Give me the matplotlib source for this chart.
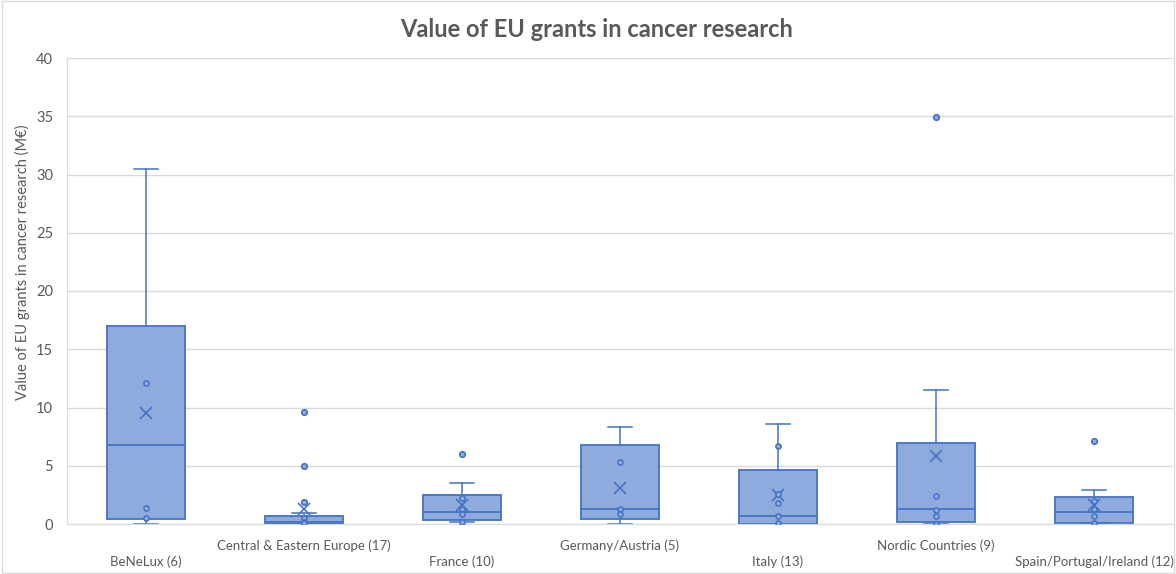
import matplotlib
matplotlib.use('Agg')
import matplotlib.pyplot as plt
from matplotlib.patches import Rectangle

plt.rcParams['font.family'] = ['Lato', 'DejaVu Sans']

# Regional groups and summary statistics (M€)
groups = ['BeNeLux (6)', 'Central & Eastern Europe (17)', 'France (10)',
          'Germany/Austria (5)', 'Italy (13)', 'Nordic Countries (9)',
          'Spain/Portugal/Ireland (12)']
q1 = [0.45, 0.0, 0.35, 0.4, 0.0, 0.2, 0.12]
medians = [6.75, 0.15, 1.05, 1.3, 0.7, 1.25, 1.0]
q3 = [17.0, 0.65, 2.5, 6.75, 4.65, 6.95, 2.3]
whisker_lo = [0.0, 0.0, 0.2, 0.0, 0.0, 0.0, 0.05]
whisker_hi = [30.5, 0.95, 3.5, 8.3, 8.55, 11.5, 2.95]
means = [9.5, 1.25, 1.6, 3.1, 2.5, 5.8, 1.6]
inner_points = [[12.1, 1.4, 0.55], [0.5, 0.2, 0.05], [2.2, 1.3, 0.9, 0.2],
                [5.3, 1.3, 0.85], [6.7, 2.6, 1.8, 0.65, 0.05],
                [2.4, 1.2, 0.65, 0.0], [2.0, 1.3, 0.65, 0.05]]
outliers = [[], [9.6, 5.0, 1.9], [6.0], [], [], [34.9], [7.1]]

edge = '#4472c4'
fill = '#8faadc'
text_col = '#595959'
grid_col = '#d9d9d9'

fig = plt.figure(figsize=(11.76, 5.74), dpi=100)
ax = fig.add_axes([67 / 1176, 1 - 524 / 574, 1106 / 1176, 466 / 574])

stats = []
for i, g in enumerate(groups):
    stats.append({'label': g, 'q1': q1[i], 'med': medians[i], 'q3': q3[i],
                  'whislo': whisker_lo[i], 'whishi': whisker_hi[i],
                  'mean': means[i], 'fliers': outliers[i]})

positions = list(range(len(groups)))
ax.bxp(stats, positions=positions, widths=0.49, patch_artist=True,
       showmeans=True, showfliers=True,
       boxprops=dict(facecolor=fill, edgecolor=edge, linewidth=1.3),
       medianprops=dict(color=edge, linewidth=1.3),
       whiskerprops=dict(color=edge, linewidth=1.1),
       capprops=dict(color=edge, linewidth=1.1),
       capwidths=0.15,
       meanprops=dict(marker='x', markeredgecolor=edge, markersize=8,
                      markeredgewidth=1.2),
       flierprops=dict(marker='o', markerfacecolor=fill, markeredgecolor=edge,
                       markersize=4, markeredgewidth=1.2))

for i, pts in enumerate(inner_points):
    ax.scatter([positions[i]] * len(pts), pts, s=14, facecolor=fill,
               edgecolor=edge, linewidth=1.1, zorder=4)

ax.set_xlim(-0.5, len(groups) - 0.5)
ax.set_ylim(0, 40)
ax.set_yticks(range(0, 41, 5))
ax.yaxis.grid(True, color=grid_col, linewidth=1)
ax.set_axisbelow(True)
ax.tick_params(axis='y', length=0, pad=10, labelsize=10.5, labelcolor=text_col)
ax.tick_params(axis='x', length=0, labelsize=9.5, labelcolor=text_col)
ax.set_xticks(positions)
ax.set_xticklabels(groups)
# staggered category labels
for i, t in enumerate(ax.xaxis.get_major_ticks()):
    t.set_pad(23 if i % 2 == 0 else 11)

for s in ['top', 'right']:
    ax.spines[s].set_visible(False)
ax.spines['left'].set_color(grid_col)
ax.spines['bottom'].set_color(grid_col)

ax.set_ylabel('Value of EU grants in cancer research (M€)', fontsize=10.5,
              color=text_col, va='center')
ax.yaxis.set_label_coords(-0.0405, 0.562)
fig.text(0.507, 0.948, 'Value of EU grants in cancer research', ha='center',
         va='center', fontsize=17, fontweight='bold', color=text_col)

fig.patches.append(Rectangle((0.002, 0.002), 0.996, 0.996, transform=fig.transFigure,
                             fill=False, edgecolor=grid_col, linewidth=1))

fig.savefig('out.png', dpi=100)
